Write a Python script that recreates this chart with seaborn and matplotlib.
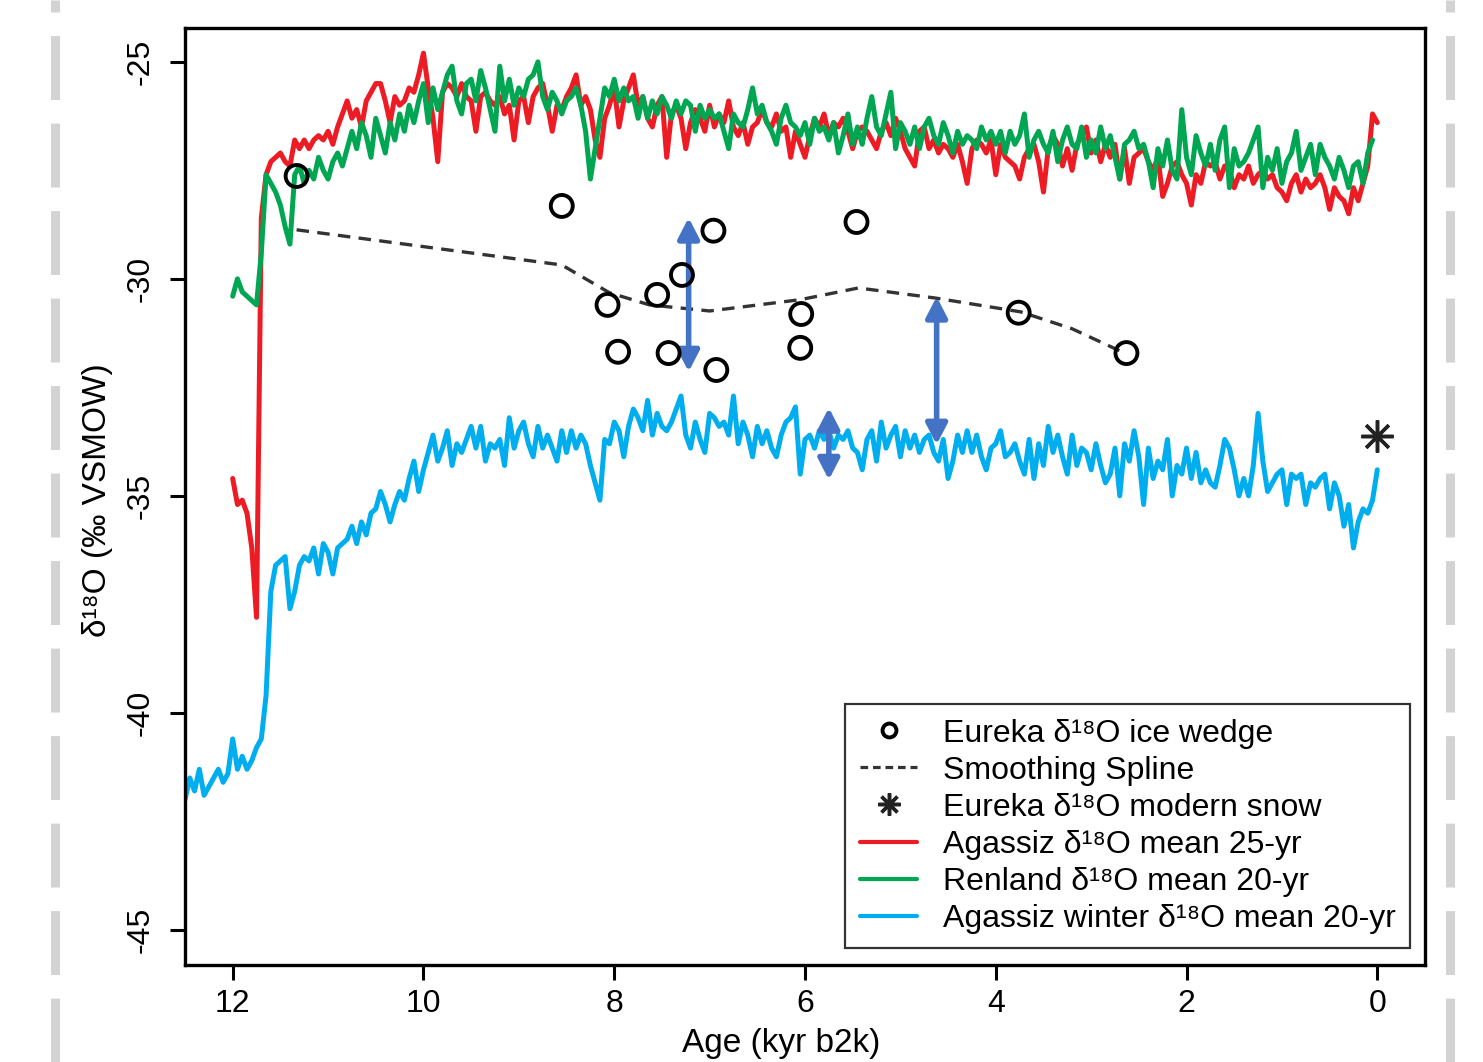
import numpy as np
import matplotlib
matplotlib.use("Agg")
import matplotlib.pyplot as plt
import seaborn as sns
from matplotlib.lines import Line2D

# ice core series, 0.05 kyr steps
red_start, green_start, blue_start = 12.00, 12.00, 12.50
red_end, green_end, blue_end = 0.00, 0.05, 0.00

agassiz = [
    -34.6, -35.2, -35.1, -35.4, -36.2, -37.8, -28.6, -27.6, -27.3, -27.2, -27.1, -27.3, -27.4, -26.8, -27.0, -26.8, -27.0, -26.8, -26.7, -26.8,
    -26.6, -26.9, -26.5, -26.2, -25.9, -26.3, -26.1, -26.5, -25.9, -25.7, -25.5, -25.5, -25.9, -26.4, -25.8, -26.0, -25.9, -25.6, -25.7, -25.3,
    -24.8, -25.6, -26.3, -27.3, -25.7, -25.5, -25.6, -25.8, -25.5, -25.8, -25.9, -26.6, -25.8, -25.7, -25.9, -26.0, -25.8, -26.2, -26.0, -26.8,
    -25.9, -25.8, -26.4, -25.8, -25.6, -25.5, -26.0, -26.6, -26.0, -26.1, -25.8, -25.6, -25.3, -26.0, -25.8, -26.1, -26.8, -27.2, -26.3, -26.0,
    -25.6, -26.5, -25.9, -25.6, -25.3, -26.0, -25.8, -26.3, -26.5, -26.0, -25.8, -27.2, -26.2, -26.0, -26.3, -27.0, -26.4, -26.1, -26.3, -26.6,
    -26.0, -26.5, -26.2, -26.4, -25.9, -26.5, -26.7, -26.4, -26.9, -26.5, -26.4, -26.1, -26.4, -26.5, -26.2, -26.6, -26.5, -27.2, -26.6, -26.9,
    -27.2, -26.7, -26.3, -26.5, -26.2, -26.7, -26.4, -26.5, -26.3, -26.6, -27.0, -26.6, -26.5, -26.6, -26.8, -27.0, -26.6, -26.4, -26.7, -26.3,
    -26.6, -27.0, -27.2, -27.4, -26.6, -26.5, -27.0, -26.8, -27.1, -26.9, -27.0, -27.2, -26.9, -27.3, -27.8, -27.0, -26.8, -26.9, -27.1, -26.8,
    -27.6, -26.9, -27.2, -27.3, -27.4, -27.7, -27.2, -27.0, -26.9, -27.3, -28.0, -27.0, -26.7, -26.9, -27.4, -27.0, -27.5, -26.9, -26.7, -26.5,
    -27.1, -26.8, -27.3, -26.9, -27.2, -26.9, -27.7, -27.0, -27.8, -27.2, -27.1, -27.0, -27.3, -27.5, -27.2, -28.1, -27.8, -27.4, -27.3, -27.6,
    -27.8, -28.3, -27.6, -27.8, -27.3, -27.4, -27.3, -27.7, -27.4, -27.5, -27.9, -27.6, -27.7, -27.4, -27.8, -27.6, -27.5, -27.7, -27.6, -27.9,
    -28.0, -28.2, -27.8, -27.6, -28.0, -27.7, -27.9, -27.8, -27.6, -27.9, -28.4, -27.9, -28.1, -28.2, -28.5, -27.9, -28.2, -27.8, -27.4, -26.2,
    -26.4,
]

renland = [
    -30.4, -30.0, -30.3, -30.4, -30.5, -30.6, -29.4, -27.6, -27.8, -28.0, -28.3, -28.8, -29.2, -27.6, -27.4, -27.8, -27.5, -27.7, -27.2, -27.5,
    -27.7, -27.3, -27.1, -27.4, -27.0, -26.6, -27.0, -26.4, -26.7, -27.2, -26.3, -26.7, -27.1, -26.4, -26.8, -26.2, -26.6, -26.0, -26.4, -25.9,
    -25.5, -26.4, -25.6, -26.1, -25.7, -25.3, -25.1, -25.9, -26.2, -25.5, -25.4, -25.9, -25.2, -25.6, -26.1, -26.6, -25.1, -25.9, -25.4, -26.0,
    -25.6, -25.8, -25.4, -25.3, -25.0, -25.8, -26.1, -25.7, -25.9, -26.2, -25.9, -25.8, -25.6, -26.0, -26.6, -27.7, -27.0, -26.3, -25.6, -25.8,
    -25.4, -25.9, -25.6, -25.9, -25.8, -26.3, -25.8, -26.3, -25.9, -26.2, -25.8, -26.0, -26.3, -25.9, -26.2, -25.9, -26.0, -26.6, -26.0, -26.3,
    -26.1, -26.3, -26.2, -26.6, -27.0, -26.2, -26.4, -26.5, -26.1, -25.6, -26.2, -26.0, -26.4, -26.6, -26.9, -26.3, -26.0, -26.4, -26.5, -26.7,
    -26.4, -26.9, -26.3, -26.6, -26.5, -26.8, -26.4, -27.1, -26.7, -26.2, -26.9, -26.5, -26.9, -26.3, -25.8, -26.5, -26.7, -26.2, -25.7, -27.0,
    -26.4, -26.6, -26.9, -26.5, -27.0, -26.5, -26.3, -26.7, -26.9, -26.4, -26.7, -27.1, -26.6, -26.9, -26.7, -26.8, -27.0, -26.5, -26.8, -26.6,
    -26.9, -26.6, -27.1, -26.6, -26.9, -26.7, -26.2, -27.2, -26.8, -26.6, -26.9, -27.1, -26.6, -27.3, -26.8, -26.5, -26.9, -27.0, -26.5, -27.2,
    -26.8, -27.1, -26.5, -27.0, -26.7, -27.2, -27.7, -26.9, -26.8, -26.6, -27.0, -26.9, -27.3, -27.9, -27.0, -27.4, -26.8, -27.5, -27.7, -26.1,
    -27.2, -27.6, -26.7, -27.1, -27.4, -26.9, -27.5, -26.8, -26.5, -27.9, -27.0, -27.4, -27.3, -27.1, -26.8, -26.5, -27.9, -27.2, -27.5, -27.0,
    -27.8, -27.3, -27.1, -26.6, -27.5, -27.2, -26.9, -27.6, -26.9, -27.2, -27.4, -27.7, -27.2, -27.5, -27.9, -27.4, -27.3, -27.8, -27.1, -26.8,
]

agassiz_winter = [
    -42.0, -41.5, -41.8, -41.3, -41.9, -41.7, -41.5, -41.3, -41.6, -41.4,
    -40.6, -41.3, -41.0, -41.3, -41.1, -40.8, -40.6, -39.6, -37.2, -36.6, -36.5, -36.4, -37.6, -37.2, -36.6, -36.4, -36.5, -36.2, -36.8, -36.1,
    -36.3, -36.8, -36.2, -36.1, -36.0, -35.7, -36.1, -35.6, -35.9, -35.4, -35.3, -34.9, -35.2, -35.6, -35.2, -34.9, -35.1, -34.6, -34.2, -34.9,
    -34.4, -34.0, -33.6, -34.2, -33.9, -33.5, -34.3, -33.8, -34.0, -33.7, -33.4, -33.9, -33.4, -34.2, -33.8, -33.9, -33.7, -34.3, -33.2, -33.9,
    -33.5, -33.3, -33.8, -34.1, -33.4, -33.9, -33.6, -33.9, -34.2, -33.5, -34.0, -33.5, -33.9, -33.6, -33.8, -34.3, -34.7, -35.1, -33.7, -33.8,
    -33.3, -33.5, -34.1, -33.4, -33.0, -33.2, -33.5, -32.8, -33.6, -33.1, -33.4, -33.5, -33.3, -33.0, -32.7, -33.6, -33.9, -33.3, -33.7, -34.0,
    -33.1, -33.2, -33.4, -33.3, -33.6, -32.7, -33.8, -33.3, -33.6, -34.1, -33.4, -33.8, -33.5, -33.9, -34.1, -33.6, -33.3, -33.2, -32.95, -34.5,
    -33.7, -33.6, -33.9, -33.5, -33.7, -33.5, -33.9, -33.6, -33.7, -33.5, -33.9, -34.0, -34.4, -33.7, -33.5, -34.2, -33.3, -33.9, -33.6, -33.4,
    -34.1, -33.5, -33.9, -33.6, -34.0, -33.7, -33.6, -34.0, -34.2, -33.7, -34.6, -34.2, -33.6, -34.0, -33.5, -34.0, -33.6, -34.1, -34.4, -33.9,
    -33.8, -33.5, -34.1, -34.0, -33.8, -34.2, -34.5, -33.7, -34.6, -33.8, -34.3, -33.4, -34.0, -33.6, -34.1, -34.5, -33.6, -34.3, -33.9, -34.0,
    -34.4, -33.8, -34.3, -34.7, -34.5, -33.9, -35.0, -33.8, -34.2, -33.5, -34.1, -35.2, -33.9, -34.6, -34.2, -34.4, -33.7, -35.0, -34.3, -34.5,
    -33.9, -34.6, -34.0, -34.7, -34.4, -34.7, -34.8, -34.3, -33.7, -33.9, -34.4, -35.0, -34.6, -35.0, -34.3, -33.1, -34.2, -34.9, -34.7, -34.5,
    -34.4, -35.2, -34.5, -34.6, -34.5, -35.2, -34.7, -34.8, -34.6, -34.5, -35.3, -34.7, -35.0, -35.7, -35.2, -36.2, -35.6, -35.3, -35.4, -35.1,
    -34.4,
]

# Eureka ice wedge samples
wedge_age = [11.33, 8.55, 8.07, 7.96, 7.55, 7.29, 7.43, 6.96, 6.93, 6.04, 6.05, 5.46, 3.76, 2.63]
wedge_d18o = [-27.63, -28.32, -30.60, -31.68, -30.37, -29.91, -31.71, -28.89, -32.10, -30.81, -31.59, -28.69, -30.78, -31.71]

# smoothing spline through the wedge samples
spline_age = [11.33, 8.55, 8.05, 7.63, 7.00, 6.05, 5.44, 4.64, 3.74, 3.20, 2.63]
spline_d18o = [-28.87, -29.68, -30.32, -30.60, -30.74, -30.48, -30.21, -30.44, -30.76, -31.15, -31.73]

# modern snow
snow_age = [0.0]
snow_d18o = [-33.62]

# offset arrows (age, top, bottom)
arrow_age = [7.22, 5.75, 4.62]
arrow_top = [-28.59, -32.97, -30.41]
arrow_bottom = [-32.14, -34.63, -33.82]

labels = ["Eureka δ¹⁸O ice wedge", "Smoothing Spline", "Eureka δ¹⁸O modern snow",
          "Agassiz δ¹⁸O mean 25-yr", "Renland δ¹⁸O mean 20-yr", "Agassiz winter δ¹⁸O mean 20-yr"]

c_red, c_green, c_blue, c_arrow = "#ED1C24", "#00A651", "#00AEEF", "#4472C4"

sns.set_theme(style="white")
plt.rcParams["font.family"] = ["Liberation Sans", "DejaVu Sans"]
plt.rcParams["lines.scale_dashes"] = False
plt.rcParams["axes.unicode_minus"] = False
plt.rcParams["text.color"] = "black"
plt.rcParams["axes.labelcolor"] = "black"

fig = plt.figure(figsize=(14.83, 10.62), dpi=100)
ax = fig.add_axes([185 / 1483, 1 - 965 / 1062, 1240 / 1483, 937 / 1062])

def ages(start, end):
    return np.round(np.arange(start, end - 0.001, -0.05), 2)

lw_series = 3.6
sns.lineplot(x=ages(blue_start, blue_end), y=agassiz_winter, ax=ax, color=c_blue, linewidth=lw_series, sort=False)
sns.lineplot(x=ages(red_start, red_end), y=agassiz, ax=ax, color=c_red, linewidth=lw_series, sort=False)
sns.lineplot(x=ages(green_start, green_end), y=renland, ax=ax, color=c_green, linewidth=lw_series, sort=False)
for ln in ax.lines:
    ln.set_solid_joinstyle("round")
    ln.set_solid_capstyle("round")

ax.plot(spline_age, spline_d18o, color="#333333", linewidth=2.4, dashes=(9, 6))
sns.scatterplot(x=wedge_age, y=wedge_d18o, ax=ax, marker="o", s=250, facecolor="none",
                edgecolor="black", linewidth=2.8, zorder=5)
ax.plot(snow_age, snow_d18o, ls="none", marker=(8, 2, 0), ms=23, mew=2.5, color="#222222", zorder=5)

for a, t, b in zip(arrow_age, arrow_top, arrow_bottom):
    ax.annotate("", xy=(a, t), xytext=(a, b),
                arrowprops=dict(arrowstyle="<|-|>,head_length=0.62,head_width=0.32",
                                color=c_arrow, lw=4.0, mutation_scale=20, shrinkA=0, shrinkB=0))

ax.set_xlim(12.5, -0.5)
ax.set_ylim(-45.81, -24.22)
ax.set_xticks([12, 10, 8, 6, 4, 2, 0])
ax.set_yticks([-25, -30, -35, -40, -45])
ax.tick_params(axis="both", direction="out", length=11, width=2.2, color="black",
               labelsize=23, labelcolor="black", bottom=True, left=True)
ax.tick_params(axis="x", pad=6)
ax.tick_params(axis="y", pad=10)
for lab in ax.get_yticklabels():
    lab.set_rotation(90)
    lab.set_va("center")
for s in ax.spines.values():
    s.set_color("black")
    s.set_linewidth(2.4)

ax.set_xlabel("Age (kyr b2k)", fontsize=24)
ax.xaxis.set_label_coords((781 - 185) / 1240, -(1028 - 965) / 937)
ax.set_ylabel("δ¹⁸O (‰ VSMOW)", fontsize=24)
ax.yaxis.set_label_coords(-(185 - 113) / 1240, (965 - 500) / 937)

handles = [
    Line2D([], [], ls="none", marker="o", ms=10, mfc="none", mec="black", mew=2.8),
    Line2D([], [], color="#333333", linewidth=2.3, dashes=(5.5, 3.5)),
    Line2D([], [], ls="none", marker=(8, 2, 0), ms=16, mew=2.5, color="#222222"),
    Line2D([], [], color=c_red, linewidth=3.0),
    Line2D([], [], color=c_green, linewidth=3.0),
    Line2D([], [], color=c_blue, linewidth=3.0),
]
leg = ax.legend(handles, labels, loc="lower right", bbox_to_anchor=(0.988, 0.018), fontsize=23,
                frameon=True, fancybox=False, handlelength=1.8, handletextpad=0.8,
                labelspacing=0.22, borderpad=0.45, borderaxespad=0)
leg.get_frame().set_edgecolor("black")
leg.get_frame().set_linewidth(1.6)

# grey dashed page edges
for xf in [55 / 1483, 1450 / 1483]:
    fig.add_artist(Line2D([xf, xf], [0, 1], transform=fig.transFigure, color="#d3d3d3",
                          linewidth=6.5, dashes=(46, 17), dash_capstyle="butt"))

fig.savefig("out.png", dpi=100)
